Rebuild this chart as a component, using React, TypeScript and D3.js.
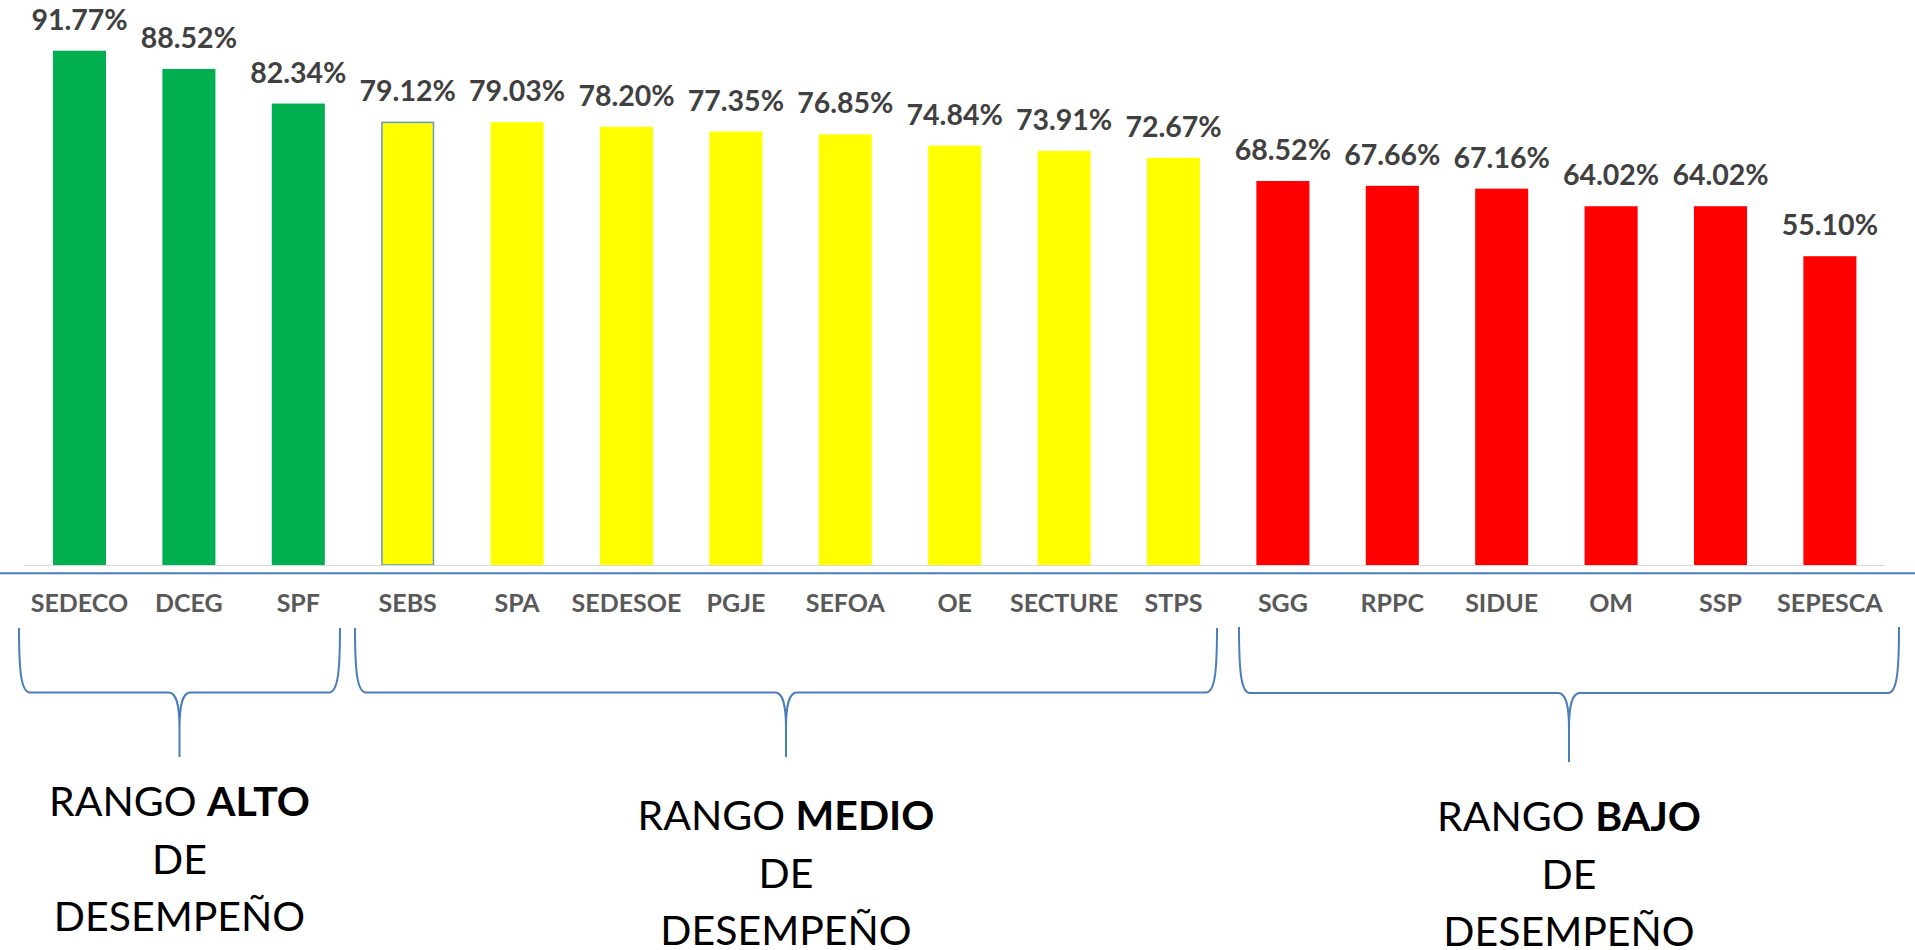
import React from "react";
import * as d3 from "d3";

const categories = ["SEDECO","DCEG","SPF","SEBS","SPA","SEDESOE","PGJE","SEFOA","OE","SECTURE","STPS","SGG","RPPC","SIDUE","OM","SSP","SEPESCA"];
const values = [91.77,88.52,82.34,79.12,79.03,78.20,77.35,76.85,74.84,73.91,72.67,68.52,67.66,67.16,64.02,64.02,55.10];
const rangeOf = ["ALTO","ALTO","ALTO","MEDIO","MEDIO","MEDIO","MEDIO","MEDIO","MEDIO","MEDIO","MEDIO","BAJO","BAJO","BAJO","BAJO","BAJO","BAJO"];
const rangeNames = ["ALTO","MEDIO","BAJO"];
const rangeColors = ["#00B050","#FFFF00","#FF0000"];
const selected = ["SEBS"];

// layout of brace annotations (pixels)
const braces = [
  { x0: 19, x1: 340, top: 628, mid: 692.5, tip: 757, base: 816 },
  { x0: 355, x1: 1217, top: 628, mid: 692.5, tip: 757, base: 830 },
  { x0: 1239, x1: 1899, top: 627, mid: 693, tip: 762, base: 831 },
];

const W = 1915, H = 950;
const BLUE = "#4A7EBB";

function bracePath(b: { x0: number; x1: number; top: number; mid: number; tip: number }) {
  const xm = (b.x0 + b.x1) / 2;
  const p = d3.path();
  p.moveTo(b.x0, b.top);
  p.bezierCurveTo(b.x0, b.mid - 22, b.x0 + 2, b.mid, b.x0 + 11, b.mid);
  p.lineTo(xm - 11, b.mid);
  p.bezierCurveTo(xm - 3, b.mid, xm, b.mid + 12, xm, b.mid + 36);
  p.lineTo(xm, b.tip);
  p.moveTo(b.x1, b.top);
  p.bezierCurveTo(b.x1, b.mid - 22, b.x1 - 2, b.mid, b.x1 - 11, b.mid);
  p.lineTo(xm + 11, b.mid);
  p.bezierCurveTo(xm + 3, b.mid, xm, b.mid + 12, xm, b.mid + 36);
  return p.toString();
}

export default function App() {
  const x = d3.scaleBand<string>().domain(categories).range([24.8, 1884.6]).paddingInner(0.515).paddingOuter(0.2575);
  const y = d3.scaleLinear().domain([0, 100]).range([565, 4.6]);
  const color = d3.scaleOrdinal<string, string>().domain(rangeNames).range(rangeColors);
  const bw = x.bandwidth();

  return (
    <svg width={W} height={H} style={{ position: "absolute", left: 0, top: 0, background: "#fff" }}>
      <rect width={W} height={H} fill="#fff" />
      {categories.map((c, i) => {
        const isSel = selected.includes(c);
        return (
          <rect key={c} x={(x(c) as number) + (isSel ? 0.75 : 0)} y={y(values[i]) + (isSel ? 0.75 : 0)}
            width={bw - (isSel ? 1.5 : 0)} height={y(0) - y(values[i]) - (isSel ? 0.75 : 0)}
            fill={color(rangeOf[i])} stroke={isSel ? "#6A95CC" : "none"} strokeWidth={isSel ? 1.5 : 0} />
        );
      })}
      <line x1={24} x2={1885} y1={565.5} y2={565.5} stroke="#D9D9D9" strokeWidth={1.2} />
      <line x1={0} x2={W} y1={573.3} y2={573.3} stroke={BLUE} strokeWidth={2} />
      {categories.map((c, i) => (
        <text key={"v" + c} x={(x(c) as number) + bw / 2} y={y(values[i]) - 21} textAnchor="middle"
          fontFamily="Lato" fontWeight="bold" fontSize={28.5} fill="#404040">
          {values[i].toFixed(2) + "%"}
        </text>
      ))}
      {categories.map((c) => (
        <text key={"c" + c} x={(x(c) as number) + bw / 2} y={611.5} textAnchor="middle"
          fontFamily="Lato" fontWeight="bold" fontSize={25} fill="#595959">
          {c}
        </text>
      ))}
      {braces.map((b, i) => (
        <g key={"b" + i}>
          <path d={bracePath(b)} fill="none" stroke={BLUE} strokeWidth={2} />
          <text x={(b.x0 + b.x1) / 2} y={b.base} textAnchor="middle" fontFamily="Lato" fontSize={41} fill="#000">
            <tspan>RANGO </tspan><tspan fontWeight="bold">{rangeNames[i]}</tspan>
          </text>
          <text x={(b.x0 + b.x1) / 2} y={b.base + 57.5} textAnchor="middle" fontFamily="Lato" fontSize={41} fill="#000">DE</text>
          <text x={(b.x0 + b.x1) / 2} y={b.base + 115} textAnchor="middle" fontFamily="Lato" fontSize={41} fill="#000">DESEMPEÑO</text>
        </g>
      ))}
    </svg>
  );
}
